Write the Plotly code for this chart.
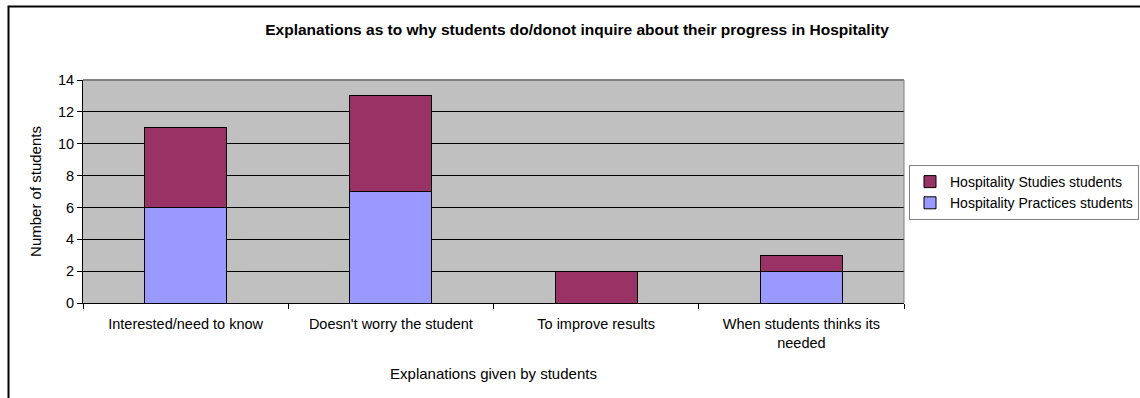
import plotly.graph_objects as go

categories = ["Interested/need to know", "Doesn't worry the student",
              "To improve results", "When students thinks its<br>needed"]
practices = [6, 7, 0, 2]
studies = [5, 6, 2, 1]
y_ticks = [0, 2, 4, 6, 8, 10, 12, 14]

W, H = 1140, 398
L, R, T, B = 83, 1140 - 904, 80, 398 - 303
pw, ph = W - L - R, H - T - B

def px(x):
    return (x - L) / pw

def py(y):
    return (H - B - y) / ph

FONT = "Liberation Sans, Arial, sans-serif"

fig = go.Figure()
fig.add_trace(go.Bar(x=categories, y=practices, name="Hospitality Practices students",
                     marker=dict(color="#9999FF", line=dict(color="black", width=1))))
fig.add_trace(go.Bar(x=categories, y=studies, name="Hospitality Studies students",
                     marker=dict(color="#993366", line=dict(color="black", width=1))))

fig.update_layout(
    width=W, height=H,
    margin=dict(l=L, r=R, t=T, b=B, pad=0, autoexpand=False),
    barmode="stack", bargap=0.6,
    plot_bgcolor="#C0C0C0", paper_bgcolor="white",
    font=dict(family=FONT, size=14, color="black"),
    title=dict(text="<b>Explanations as to why students do/donot inquire about their progress in Hospitality</b>",
               x=px(577), xref="paper", xanchor="center", y=1 - 30 / H, yanchor="middle",
               font=dict(size=15.5)),
    legend=dict(x=px(909), y=py(165), xanchor="left", yanchor="top",
                traceorder="reversed", bordercolor="#808080", borderwidth=1,
                bgcolor="white", font=dict(size=14), tracegroupgap=0,
                itemwidth=30),
    showlegend=True,
)
fig.update_xaxes(showline=True, linecolor="black", linewidth=1, ticks="outside",
                 tickson="boundaries", ticklen=5, tickcolor="black",
                 showgrid=False, mirror=False, ticklabelstandoff=8,
                 title=dict(text="Explanations given by students", standoff=18,
                            font=dict(size=15)),
                 tickfont=dict(size=14.5))
fig.update_yaxes(range=[0, 14], tickvals=y_ticks, showline=True, linecolor="black",
                 linewidth=1, ticks="outside", ticklen=5, tickcolor="black",
                 showgrid=True, gridcolor="black", gridwidth=1, zeroline=False,
                 title=dict(text="Number of students", standoff=12, font=dict(size=15)),
                 tickfont=dict(size=14.5))
# plot area top/right gray border
fig.add_shape(type="line", xref="paper", yref="paper", x0=0, x1=1, y0=1, y1=1,
              line=dict(color="#808080", width=2))
fig.add_shape(type="line", xref="paper", yref="paper", x0=1, x1=1, y0=0, y1=1,
              line=dict(color="#808080", width=1))
# outer chart border (left and top visible)
fig.add_shape(type="rect", xref="paper", yref="paper",
              x0=px(8.5), x1=px(1150), y0=py(410), y1=py(6.5),
              line=dict(color="black", width=2), fillcolor="rgba(0,0,0,0)", layer="above")

fig.write_html("out.html")
